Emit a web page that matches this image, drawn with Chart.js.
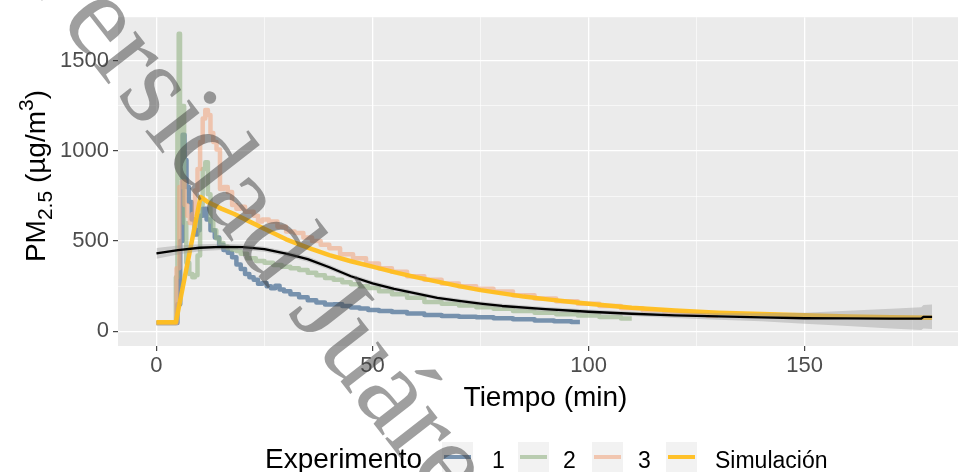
<!DOCTYPE html>
<html>
<head>
<meta charset="utf-8">
<script src="https://cdn.jsdelivr.net/npm/chart.js@4/dist/chart.umd.min.js"></script>
<style>
html,body{margin:0;padding:0;background:#ffffff;}
canvas{display:block;}
</style>
</head>
<body>
<canvas id="c" width="958" height="472"></canvas>
<script>
// PM2.5 concentration over time: three experiments, the simulation, and a smoothed trend
const exp1T = [0, 4.5, 5.2, 5.8, 6.3, 6.7, 7.2, 7.8, 8.5, 9.2, 9.7, 10.3, 11.2, 12, 13, 14, 15, 16, 17, 18, 19, 20, 21, 22, 23, 24, 25, 26, 27, 28, 29, 30, 32, 34, 36, 38, 40, 42, 44, 46, 48, 50, 53, 56, 60, 64, 68, 72, 76, 80, 85, 90, 94, 98];
const exp1V = [45, 45, 150, 500, 1090, 950, 800, 717, 620, 536, 560, 640, 679, 620, 560, 520, 480, 450, 435, 410, 370, 345, 318, 300, 285, 263, 268, 250, 238, 252, 232, 222, 205, 188, 172, 160, 148, 150, 140, 132, 126, 118, 112, 106, 98, 90, 85, 80, 77, 72, 67, 60, 55, 51];

const exp2T = [0, 4.3, 4.7, 5.0, 5.3, 5.6, 5.9, 6.2, 6.6, 7.2, 8.0, 8.6, 9.2, 9.8, 10.4, 11.0, 11.6, 12.2, 12.8, 13.5, 14.2, 15, 16, 17, 18, 19, 20, 22, 24, 26, 28, 30, 32, 34, 36, 38, 40, 42, 44, 46, 48, 50, 53, 56, 60, 64, 68, 72, 76, 80, 85, 90, 95, 100, 105, 110];
const exp2V = [45, 45, 300, 1100, 1650, 1150, 850, 1250, 600, 380, 318, 300, 310, 420, 700, 900, 937, 760, 608, 560, 515, 490, 470, 460, 452, 445, 430, 405, 390, 380, 368, 358, 350, 340, 325, 310, 295, 285, 272, 260, 250, 240, 222, 205, 185, 162, 152, 142, 133, 125, 112, 102, 94, 87, 79, 71];

const exp3T = [0, 4.3, 5.0, 5.6, 6.2, 6.8, 7.4, 8.0, 8.6, 9.2, 9.8, 10.4, 11.0, 11.6, 12.2, 12.8, 13.5, 14.3, 15.1, 16, 17, 18, 19, 20, 21, 22, 23, 24, 25, 27, 29, 31, 33, 35, 37, 39, 41, 44, 47, 50, 53, 56, 60, 64, 68, 72, 76, 80, 85, 90, 95, 100, 105, 110, 115, 120, 125, 130];
const exp3V = [45, 45, 350, 800, 830, 700, 640, 600, 650, 780, 900, 1050, 1180, 1227, 1200, 1100, 1050, 1008, 789, 800, 772, 700, 679, 690, 663, 663, 640, 608, 620, 608, 580, 553, 545, 520, 500, 480, 460, 427, 405, 375, 350, 330, 305, 285, 265, 250, 235, 220, 200, 182, 166, 152, 140, 128, 116, 106, 96, 86];

const simT = [0, 4.5, 10.2, 12, 15, 18, 21, 24, 27, 30, 33, 36, 40, 45, 50, 55, 60, 65, 70, 75, 80, 85, 90, 95, 100, 110, 120, 130, 140, 150, 160, 170, 179.5];
const simV = [50, 50, 745, 715, 680, 650, 615, 580, 545, 510, 482, 455, 422, 388, 358, 328, 300, 275, 250, 228, 210, 192, 178, 165, 152, 130, 115, 103, 95, 88, 82, 78, 75];

const smoothT = [0, 5, 10, 15, 20, 25, 30, 35, 40, 45, 50, 55, 60, 65, 70, 75, 80, 90, 100, 110, 120, 130, 140, 150, 160, 170, 177, 177.5, 179.5];
const smoothV = [432, 450, 463, 468, 466, 455, 430, 400, 355, 305, 265, 235, 210, 185, 168, 153, 140, 122, 108, 97, 88, 82, 77, 72, 71, 70, 70, 80, 80];
const bandLow = [402, 425, 443, 451, 451, 441, 416, 386, 341, 292, 252, 222, 198, 173, 156, 141, 128, 110, 96, 84, 73, 64, 55, 42, 29, 15, 7, 15, 12];
const bandHigh = [462, 475, 483, 485, 481, 469, 444, 414, 369, 318, 278, 248, 222, 197, 180, 165, 152, 134, 120, 110, 103, 100, 99, 102, 113, 125, 133, 145, 148];

const xTicks = [0, 50, 100, 150];
const yTicks = [0, 500, 1000, 1500];
const legendLabels = ['1', '2', '3', 'Simulación'];
const legendTitle = 'Experimento';
const xTitle = 'Tiempo (min)';

const seriesColors = ['rgba(72,110,148,0.72)', 'rgba(150,180,135,0.62)', 'rgba(240,168,132,0.6)', 'rgba(255,190,30,0.95)'];
const SANS = '"Liberation Sans", Arial, sans-serif';

function pts(t, v) { return t.map((x, i) => ({ x: x, y: v[i] })); }

function lineSet(label, t, v, color, width, order, stepped) {
  return {
    label: label, data: pts(t, v), borderColor: color, borderWidth: width,
    pointRadius: 0, fill: false, tension: 0, order: order, stepped: stepped || false,
    borderCapStyle: 'butt', borderJoinStyle: 'round'
  };
}

const panelBg = {
  id: 'panelBg',
  beforeDraw(chart) {
    const a = chart.chartArea, ctx = chart.ctx;
    ctx.save();
    ctx.fillStyle = '#EBEBEB';
    ctx.fillRect(a.left, a.top, a.right - a.left, a.bottom - a.top);
    ctx.restore();
  }
};

const annotations = {
  id: 'annotations',
  afterDraw(chart) {
    const ctx = chart.ctx;
    ctx.save();
    ctx.fillStyle = '#000000';
    ctx.textBaseline = 'alphabetic';

    // x title
    ctx.font = '28px ' + SANS;
    ctx.textAlign = 'center';
    ctx.fillText(xTitle, 545.5, 406);

    // y title with sub- and superscript
    const parts = [
      { s: 'PM', f: 28, dy: 0 },
      { s: '2.5', f: 21, dy: 7 },
      { s: ' (\u00B5g/m', f: 28, dy: 0 },
      { s: '3', f: 21, dy: -12 },
      { s: ')', f: 28, dy: 0 }
    ];
    let total = 0;
    parts.forEach(p => { ctx.font = p.f + 'px ' + SANS; p.w = ctx.measureText(p.s).width; total += p.w; });
    ctx.translate(45, 176);
    ctx.rotate(-Math.PI / 2);
    ctx.textAlign = 'left';
    let x = -total / 2;
    parts.forEach(p => { ctx.font = p.f + 'px ' + SANS; ctx.fillText(p.s, x, p.dy); x += p.w; });
    ctx.setTransform(1, 0, 0, 1, 0, 0);

    // legend
    ctx.textAlign = 'left';
    ctx.font = '28px ' + SANS;
    ctx.fillText(legendTitle, 265, 468);
    const boxX = [442, 518, 592, 666];
    const labX = [492, 563, 638, 715];
    ctx.font = '23px ' + SANS;
    for (let i = 0; i < 4; i++) {
      ctx.fillStyle = '#F2F2F2';
      ctx.fillRect(boxX[i], 442, 31, 31);
      ctx.strokeStyle = seriesColors[i];
      ctx.lineWidth = 4;
      ctx.beginPath();
      ctx.moveTo(boxX[i] + 2, 457);
      ctx.lineTo(boxX[i] + 29, 457);
      ctx.stroke();
      ctx.fillStyle = '#000000';
      ctx.fillText(legendLabels[i], labX[i], 468);
    }

    // watermark
    const wm = 'Universidad Juárez Autónoma de Tabasco';
    ctx.font = '118px "Liberation Serif", "Times New Roman", serif';
    const lead = ctx.measureText('Univ').width;
    ctx.translate(59, 21);
    ctx.rotate(52 * Math.PI / 180);
    ctx.fillStyle = 'rgba(64,64,64,0.5)';
    ctx.fillText(wm, -lead, 0);
    ctx.restore();
  }
};

function isMajor(v, step) { return Math.abs(v % step) < 1e-6; }

new Chart(document.getElementById('c'), {
  type: 'line',
  data: {
    datasets: [
      lineSet('1', exp1T, exp1V, seriesColors[0], 4.5, 6, 'middle'),
      lineSet('2', exp2T, exp2V, seriesColors[1], 4.5, 5, 'middle'),
      lineSet('3', exp3T, exp3V, seriesColors[2], 4.5, 4, 'middle'),
      lineSet('Simulación', simT, simV, seriesColors[3], 4.5, 3),
      { label: 'low', data: pts(smoothT, bandLow), borderWidth: 0, pointRadius: 0, fill: false, order: 2 },
      { label: 'high', data: pts(smoothT, bandHigh), borderWidth: 0, pointRadius: 0, fill: '-1', backgroundColor: 'rgba(153,153,153,0.4)', order: 1 },
      lineSet('trend', smoothT, smoothV, '#000000', 2.3, 0)
    ]
  },
  options: {
    responsive: false,
    animation: false,
    events: [],
    layout: { padding: { top: 13, right: 0, left: 0, bottom: 0 } },
    plugins: { legend: { display: false }, tooltip: { enabled: false } },
    scales: {
      x: {
        type: 'linear', min: -8.9, max: 185.5,
        afterFit(s) { s.height = 126; },
        border: { display: false },
        grid: {
          color: '#FFFFFF',
          lineWidth: c => (c.tick && isMajor(c.tick.value, 50)) ? 1.3 : 0.6,
          tickColor: c => (c.tick && isMajor(c.tick.value, 50)) ? '#333333' : 'rgba(0,0,0,0)',
          tickWidth: 1.1, tickLength: 5, drawTicks: true
        },
        ticks: {
          stepSize: 25, autoSkip: false, includeBounds: false, maxRotation: 0,
          callback: v => xTicks.includes(v) ? String(v) : '',
          color: '#4D4D4D', font: { family: SANS, size: 22 }, padding: 2
        }
      },
      y: {
        type: 'linear', min: -82, max: 1742,
        afterFit(s) { s.width = 118; },
        border: { display: false },
        grid: {
          color: '#FFFFFF',
          lineWidth: c => (c.tick && isMajor(c.tick.value, 500)) ? 1.3 : 0.6,
          tickColor: c => (c.tick && isMajor(c.tick.value, 500)) ? '#333333' : 'rgba(0,0,0,0)',
          tickWidth: 1.1, tickLength: 5, drawTicks: true
        },
        ticks: {
          stepSize: 250, autoSkip: false, includeBounds: false,
          callback: v => yTicks.includes(v) ? String(v) : '',
          color: '#4D4D4D', font: { family: SANS, size: 22 }, padding: 4
        }
      }
    }
  },
  plugins: [panelBg, annotations]
});
</script>
</body>
</html>
